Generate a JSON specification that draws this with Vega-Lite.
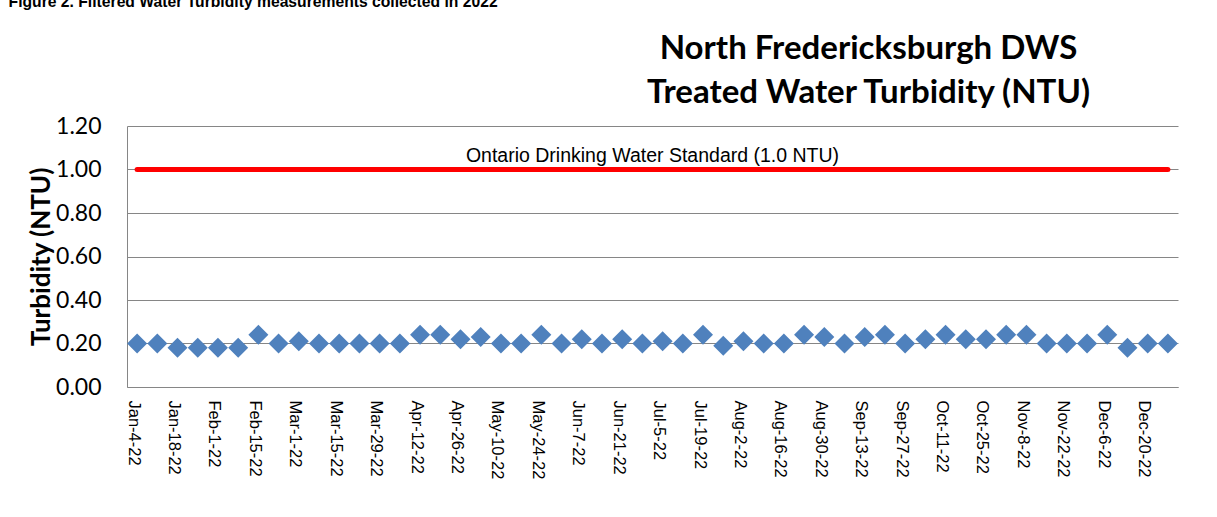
{
  "$schema": "https://vega.github.io/schema/vega-lite/v6.json",
  "width": 1051,
  "height": 261,
  "autosize": {"type": "none"},
  "padding": {"left": 127, "top": 126, "right": 39, "bottom": 130},
  "background": "white",
  "title": {
    "text": "Figure 2. Filtered Water Turbidity measurements collected in 2022",
    "anchor": "start",
    "frame": "bounds",
    "dx": -20,
    "offset": 21,
    "font": "Liberation Sans",
    "fontSize": 15.7,
    "fontWeight": "bold",
    "color": "#000000"
  },
  "config": {"view": {"stroke": null}},
  "data": {
    "values": [
      {"date": "Jan-4-22", "turbidity": 0.20, "standard": 1.0},
      {"date": "Jan-11-22", "turbidity": 0.20, "standard": 1.0},
      {"date": "Jan-18-22", "turbidity": 0.18, "standard": 1.0},
      {"date": "Jan-25-22", "turbidity": 0.18, "standard": 1.0},
      {"date": "Feb-1-22", "turbidity": 0.18, "standard": 1.0},
      {"date": "Feb-8-22", "turbidity": 0.18, "standard": 1.0},
      {"date": "Feb-15-22", "turbidity": 0.24, "standard": 1.0},
      {"date": "Feb-22-22", "turbidity": 0.20, "standard": 1.0},
      {"date": "Mar-1-22", "turbidity": 0.21, "standard": 1.0},
      {"date": "Mar-8-22", "turbidity": 0.20, "standard": 1.0},
      {"date": "Mar-15-22", "turbidity": 0.20, "standard": 1.0},
      {"date": "Mar-22-22", "turbidity": 0.20, "standard": 1.0},
      {"date": "Mar-29-22", "turbidity": 0.20, "standard": 1.0},
      {"date": "Apr-5-22", "turbidity": 0.20, "standard": 1.0},
      {"date": "Apr-12-22", "turbidity": 0.24, "standard": 1.0},
      {"date": "Apr-19-22", "turbidity": 0.24, "standard": 1.0},
      {"date": "Apr-26-22", "turbidity": 0.22, "standard": 1.0},
      {"date": "May-3-22", "turbidity": 0.23, "standard": 1.0},
      {"date": "May-10-22", "turbidity": 0.20, "standard": 1.0},
      {"date": "May-17-22", "turbidity": 0.20, "standard": 1.0},
      {"date": "May-24-22", "turbidity": 0.24, "standard": 1.0},
      {"date": "May-31-22", "turbidity": 0.20, "standard": 1.0},
      {"date": "Jun-7-22", "turbidity": 0.22, "standard": 1.0},
      {"date": "Jun-14-22", "turbidity": 0.20, "standard": 1.0},
      {"date": "Jun-21-22", "turbidity": 0.22, "standard": 1.0},
      {"date": "Jun-28-22", "turbidity": 0.20, "standard": 1.0},
      {"date": "Jul-5-22", "turbidity": 0.21, "standard": 1.0},
      {"date": "Jul-12-22", "turbidity": 0.20, "standard": 1.0},
      {"date": "Jul-19-22", "turbidity": 0.24, "standard": 1.0},
      {"date": "Jul-26-22", "turbidity": 0.19, "standard": 1.0},
      {"date": "Aug-2-22", "turbidity": 0.21, "standard": 1.0},
      {"date": "Aug-9-22", "turbidity": 0.20, "standard": 1.0},
      {"date": "Aug-16-22", "turbidity": 0.20, "standard": 1.0},
      {"date": "Aug-23-22", "turbidity": 0.24, "standard": 1.0},
      {"date": "Aug-30-22", "turbidity": 0.23, "standard": 1.0},
      {"date": "Sep-6-22", "turbidity": 0.20, "standard": 1.0},
      {"date": "Sep-13-22", "turbidity": 0.23, "standard": 1.0},
      {"date": "Sep-20-22", "turbidity": 0.24, "standard": 1.0},
      {"date": "Sep-27-22", "turbidity": 0.20, "standard": 1.0},
      {"date": "Oct-4-22", "turbidity": 0.22, "standard": 1.0},
      {"date": "Oct-11-22", "turbidity": 0.24, "standard": 1.0},
      {"date": "Oct-18-22", "turbidity": 0.22, "standard": 1.0},
      {"date": "Oct-25-22", "turbidity": 0.22, "standard": 1.0},
      {"date": "Nov-1-22", "turbidity": 0.24, "standard": 1.0},
      {"date": "Nov-8-22", "turbidity": 0.24, "standard": 1.0},
      {"date": "Nov-15-22", "turbidity": 0.20, "standard": 1.0},
      {"date": "Nov-22-22", "turbidity": 0.20, "standard": 1.0},
      {"date": "Nov-29-22", "turbidity": 0.20, "standard": 1.0},
      {"date": "Dec-6-22", "turbidity": 0.24, "standard": 1.0},
      {"date": "Dec-13-22", "turbidity": 0.18, "standard": 1.0},
      {"date": "Dec-20-22", "turbidity": 0.20, "standard": 1.0},
      {"date": "Dec-27-22", "turbidity": 0.20, "standard": 1.0}
    ]
  },
  "layer": [
    {
      "mark": {"type": "line", "color": "#FF0000", "strokeWidth": 5, "strokeCap": "round"},
      "encoding": {
        "x": {
          "field": "date",
          "type": "nominal",
          "sort": null,
          "scale": {"type": "point", "padding": 0.5},
          "axis": {
            "orient": "top",
            "labels": false,
            "ticks": false,
            "domain": false,
            "grid": false,
            "title": ["North Fredericksburgh DWS", "Treated Water Turbidity (NTU)"],
            "titleX": 741,
            "titleY": -68,
            "titleAlign": "center",
            "titleBaseline": "alphabetic",
            "titleAngle": 0,
            "titleFont": "Lato",
            "titleFontSize": 33,
            "titleFontWeight": "bold",
            "titleColor": "#000000",
            "titleLineHeight": 44
          }
        },
        "y": {
          "field": "standard",
          "type": "quantitative",
          "scale": {"domain": [0, 1.2], "nice": false},
          "axis": {
            "values": [0, 0.2, 0.4, 0.6, 0.8, 1.0, 1.2],
            "format": ".2f",
            "title": "Turbidity (NTU)",
            "titleFont": "Lato",
            "titleFontSize": 26,
            "titleFontWeight": "bold",
            "titleColor": "#000000",
            "titlePadding": 1,
            "labelFont": "Lato",
            "labelFontSize": 23,
            "labelColor": "#000000",
            "labelPadding": 26,
            "ticks": false,
            "grid": true,
            "gridColor": "#868686",
            "gridWidth": 1,
            "domainColor": "#868686",
            "domainWidth": 1
          }
        }
      }
    },
    {
      "data": {"values": [{"label": "Ontario Drinking Water Standard (1.0 NTU)", "level": 1.0}]},
      "mark": {"type": "text", "font": "Liberation Sans", "fontSize": 19.5, "baseline": "alphabetic", "dy": -8, "color": "#000000"},
      "encoding": {
        "y": {
          "field": "level",
          "type": "quantitative",
          "axis": {
            "values": [0, 0.2, 0.4, 0.6, 0.8, 1.0, 1.2],
            "format": ".2f",
            "title": "Turbidity (NTU)",
            "titleFont": "Lato",
            "titleFontSize": 26,
            "titleFontWeight": "bold",
            "titleColor": "#000000",
            "titlePadding": 1,
            "labelFont": "Lato",
            "labelFontSize": 23,
            "labelColor": "#000000",
            "labelPadding": 26,
            "ticks": false,
            "grid": true,
            "gridColor": "#868686",
            "gridWidth": 1,
            "domainColor": "#868686",
            "domainWidth": 1
          }
        },
        "text": {"field": "label"}
      }
    },
    {
      "mark": {"type": "point", "shape": "diamond", "filled": true, "size": 400, "color": "#4F81BD", "opacity": 1, "strokeWidth": 0},
      "encoding": {
        "x": {
          "field": "date",
          "type": "nominal",
          "sort": null,
          "axis": {
            "orient": "bottom",
            "values": ["Jan-4-22", "Jan-18-22", "Feb-1-22", "Feb-15-22", "Mar-1-22", "Mar-15-22", "Mar-29-22", "Apr-12-22", "Apr-26-22", "May-10-22", "May-24-22", "Jun-7-22", "Jun-21-22", "Jul-5-22", "Jul-19-22", "Aug-2-22", "Aug-16-22", "Aug-30-22", "Sep-13-22", "Sep-27-22", "Oct-11-22", "Oct-25-22", "Nov-8-22", "Nov-22-22", "Dec-6-22", "Dec-20-22"],
            "labelAngle": 90,
            "labelFont": "Liberation Sans",
            "labelFontSize": 16.5,
            "labelColor": "#000000",
            "labelPadding": 13,
            "labelOffset": -4,
            "labelOverlap": false,
            "ticks": false,
            "grid": false,
            "domainColor": "#868686",
            "domainWidth": 1,
            "title": null
          }
        },
        "y": {
          "field": "turbidity",
          "type": "quantitative",
          "axis": {
            "values": [0, 0.2, 0.4, 0.6, 0.8, 1.0, 1.2],
            "format": ".2f",
            "title": "Turbidity (NTU)",
            "titleFont": "Lato",
            "titleFontSize": 26,
            "titleFontWeight": "bold",
            "titleColor": "#000000",
            "titlePadding": 1,
            "labelFont": "Lato",
            "labelFontSize": 23,
            "labelColor": "#000000",
            "labelPadding": 26,
            "ticks": false,
            "grid": true,
            "gridColor": "#868686",
            "gridWidth": 1,
            "domainColor": "#868686",
            "domainWidth": 1
          }
        }
      }
    }
  ],
  "resolve": {"axis": {"x": "independent"}}
}
